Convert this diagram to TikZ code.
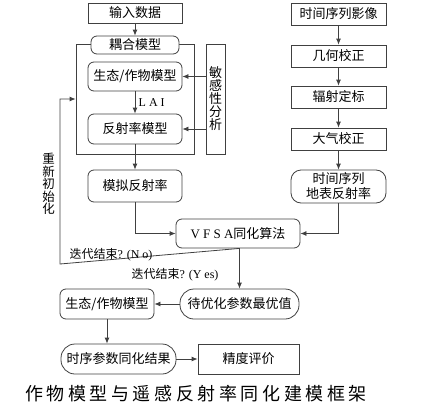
\documentclass[tikz,border=0pt]{standalone}
\usepackage{fontspec}
\setmainfont{Noto Sans CJK SC}
\newfontfamily\lat{Liberation Serif}
\usepackage{tikz}
\usetikzlibrary{arrows.meta,calc,positioning}

\begin{document}
\begin{tikzpicture}[x=1pt,y=-1pt,
		line/.style={draw=black!75, line width=0.8pt},
		arr/.style={line, -{Latex[length=6pt,width=5pt]}},
		sqbox/.style={line, rectangle, inner sep=0pt, font=\fontsize{13}{14}\selectfont},
		rbox/.style={sqbox, rounded corners=6pt},
		pill/.style={sqbox, rounded corners=14pt},
		vtext/.style={align=center, inner sep=0pt, font=\fontsize{13}{13}\selectfont}]
		\useasboundingbox (0,0) rectangle (425,415);

		% left column: model side
		\node[sqbox, minimum width=94, minimum height=20] (input) at (135,13) {输入数据};
		\node[line, rectangle, minimum width=118, minimum height=110, inner sep=0pt] (frame) at (135,99) {};
		\node[rbox, fill=white, minimum width=88, minimum height=18] (couple) at (135,45) {耦合模型};
		\node[rbox, minimum width=94, minimum height=29] (eco) at (135,76.5) {生态/作物模型};
		\node[rbox, minimum width=94, minimum height=30] (refl) at (135,129) {反射率模型};
		\node[line, rectangle, minimum width=19, minimum height=110, inner sep=0pt] (sens) at (215.5,99) {};
		\node[vtext] (senstext) at (sens.center) {敏\\感\\性\\分\\析};
		\node[rbox, minimum width=94, minimum height=32] (sim) at (135,186) {模拟反射率};

		% right column: image side
		\node[sqbox, minimum width=95, minimum height=22] (img) at (338.5,14) {时间序列影像};
		\node[sqbox, minimum width=95, minimum height=22] (geo) at (338.5,56) {几何校正};
		\node[sqbox, minimum width=95, minimum height=22] (rad) at (338.5,97) {辐射定标};
		\node[sqbox, minimum width=95, minimum height=22] (atm) at (338.5,139) {大气校正};
		\node[rbox, rounded corners=10pt, minimum width=95, minimum height=33, align=center, font=\fontsize{13}{15}\selectfont] (surf) at (338.5,186.5) {时间序列\\地表反射率};

		% assimilation
		\node[rbox, minimum width=124, minimum height=29] (vfsa) at (238,233.5) {{\lat V F S A}同化算法};
		\node[pill, minimum width=119, minimum height=30] (opt) at (239.5,304) {待优化参数最优值};
		\node[rbox, minimum width=94, minimum height=30] (eco2) at (107,304) {生态/作物模型};
		\node[pill, minimum width=115, minimum height=30] (res) at (118.5,359) {时序参数同化结果};
		\node[sqbox, minimum width=101, minimum height=30] (acc) at (248.5,359) {精度评价};

		\coordinate (loop) at (60,264);

		% connectors
		\draw[arr] (input) -- (couple);
		\draw[arr] (eco) -- node[right, font=\lat\fontsize{12}{12}\selectfont] {L A I} (refl);
		\draw[arr] (sens.west |- eco.east) -- (eco.east);
		\draw[arr] (sens.west |- refl.east) -- (refl.east);
		\draw[arr] (refl) -- (sim);
		\draw[arr] (sim.south) |- (vfsa.west);
		\draw[arr] (img) -- (geo);
		\draw[arr] (geo) -- (rad);
		\draw[arr] (rad) -- (atm);
		\draw[arr] (atm) -- (surf);
		\draw[arr] (surf.south) |- (vfsa.east);
		\draw[arr] (vfsa.south -| opt.north) -- (opt.north);
		\draw[arr] (vfsa.south -| opt.north |- loop) -- (loop) |- (frame.west);
		\draw[arr] (opt) -- (eco2);
		\draw[arr] (eco2.south) -- (eco2.south |- res.north);
		\draw[arr] (res) -- (acc);

		% labels
		\node[font=\fontsize{12}{12}\selectfont] (nolabel) at (111,255) {迭代结束{\lat ? (N o)}};
		\node[font=\fontsize{12}{12}\selectfont] (yeslabel) at (175,275) {迭代结束{\lat ? (Y es)}};
		\node[vtext, font=\fontsize{12.5}{12.5}\selectfont] (reinit) at (48.5,184) {重\\新\\初\\始\\化};
		\node[font=\fontsize{18}{18}\selectfont\addfontfeature{LetterSpace=20}] (caption) at (196,394) {作物模型与遥感反射率同化建模框架};
	\end{tikzpicture}
\end{document}
